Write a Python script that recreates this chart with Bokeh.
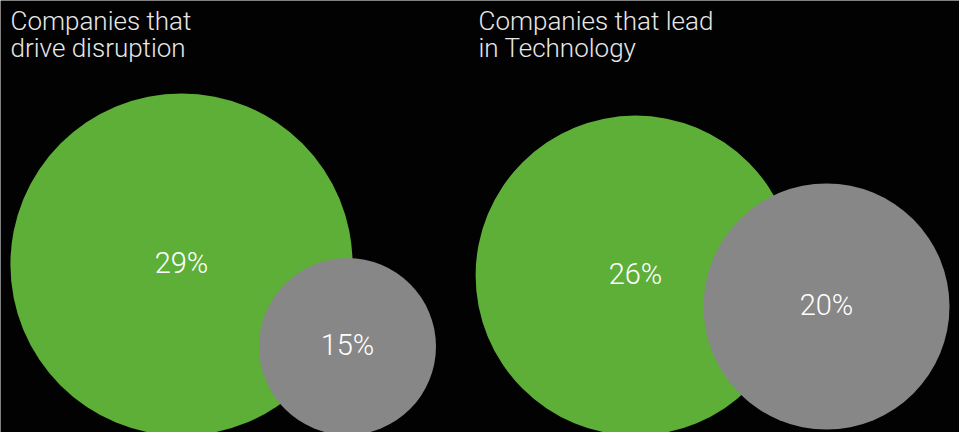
from bokeh.plotting import figure
from bokeh.models import Range1d, ColumnDataSource
from bokeh.core.properties import value
from bokeh.embed import file_html
from bokeh.resources import INLINE

# ---- data ----
panel_titles = ["Companies that\ndrive disruption", "Companies that lead\nin Technology"]
green_values = [29, 26]   # percent
grey_values = [15, 20]    # percent
green_labels = ["29%", "26%"]
grey_labels = ["15%", "20%"]

# ---- layout (pixel-like data coordinates) ----
W, H = 959, 432
title_x = [10, 478]
title_y = [5, 5]
green_cx = [181, 635]
green_cy = [264, 275]
grey_cx = [347, 826]
grey_cy = [346, 306]
px_per_pct = [5.9, 6.15]

GREEN = "#5DAF38"
GREY = "#878787"

p = figure(width=W, height=H, output_backend="svg", toolbar_location=None,
           x_range=Range1d(0, W), y_range=Range1d(H, 0),
           x_axis_location=None, y_axis_location=None, min_border=0,
           background_fill_color="#020202", border_fill_color="#020202",
           outline_line_color=None)
p.xgrid.visible = False
p.ygrid.visible = False

green_src = ColumnDataSource(dict(
    x=green_cx, y=green_cy,
    r=[v * s for v, s in zip(green_values, px_per_pct)],
    label=green_labels))
grey_src = ColumnDataSource(dict(
    x=grey_cx, y=grey_cy,
    r=[v * s for v, s in zip(grey_values, px_per_pct)],
    label=grey_labels))

p.circle(x="x", y="y", radius="r", source=green_src, fill_color=GREEN, line_color=None)
p.circle(x="x", y="y", radius="r", source=grey_src, fill_color=GREY, line_color=None)

for src in (green_src, grey_src):
    p.text(x="x", y="y", text="label", source=src, text_color="#ffffff",
           text_font=value("Roboto Light"), text_font_size="29px",
           text_align="center", text_baseline="middle", y_offset=-2)

title_src = ColumnDataSource(dict(x=title_x, y=title_y, t=panel_titles))
p.text(x="x", y="y", text="t", source=title_src, text_color="#e8e8e8",
       text_font=value("Roboto Light"), text_font_size="26px",
       text_align="left", text_baseline="top", text_line_height=0.9)

open("out.html", "w").write(file_html(p, INLINE))
